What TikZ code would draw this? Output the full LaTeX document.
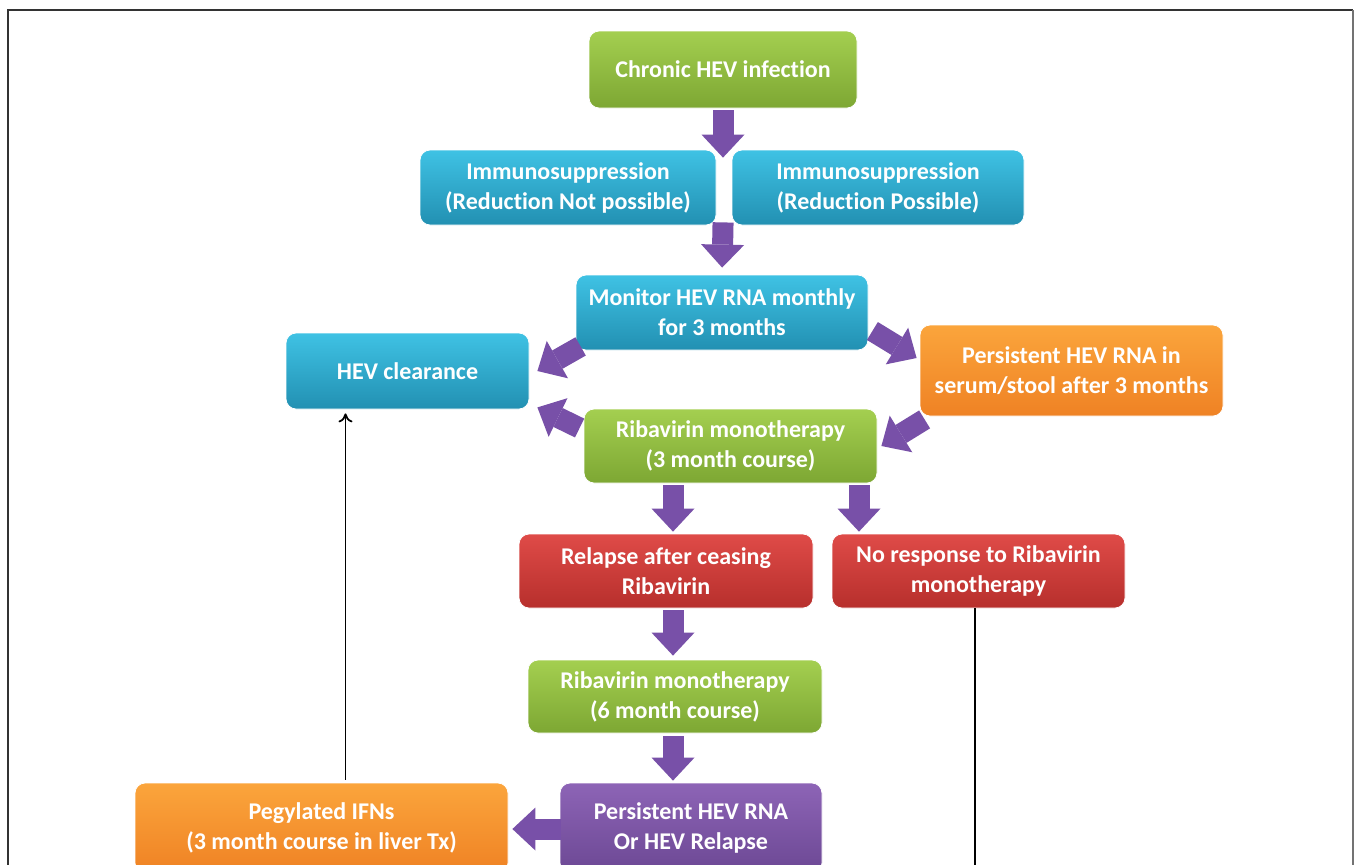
\documentclass[tikz,border=0pt]{standalone}
\usepackage{fontspec}
\setmainfont{Carlito}[Ligatures=NoCommon]
\usetikzlibrary{arrows.meta}

\definecolor{greentop}{HTML}{A4CF50}
\definecolor{greenbot}{HTML}{7DA733}
\definecolor{bluetop}{HTML}{3FC2E4}
\definecolor{bluebot}{HTML}{2290B2}
\definecolor{orangetop}{HTML}{FBA53C}
\definecolor{orangebot}{HTML}{EF8224}
\definecolor{redtop}{HTML}{DF4B48}
\definecolor{redbot}{HTML}{B72F2C}
\definecolor{purpletop}{HTML}{8D64B6}
\definecolor{purplebot}{HTML}{6C4894}
\definecolor{arrowpurple}{HTML}{7850A8}

\tikzset{
  stepbox/.style={rounded corners=5pt, text=white, align=center, inner sep=0pt,
    font=\bfseries\fontsize{12}{15}\selectfont, draw=white, line width=0.4pt},
  greenbox/.style={stepbox, top color=greentop, bottom color=greenbot},
  bluebox/.style={stepbox, top color=bluetop, bottom color=bluebot},
  orangebox/.style={stepbox, top color=orangetop, bottom color=orangebot},
  redbox/.style={stepbox, top color=redtop, bottom color=redbot},
  purplebox/.style={stepbox, top color=purpletop, bottom color=purplebot},
  fatarrow/.style={draw=arrowpurple, line width=10.5pt,
    -{Triangle[length=11.5pt,width=21.5pt,line width=0pt]}},
  thinarrow/.style={draw=black, line width=0.9pt, -{To[length=4.5pt,width=7pt]}}
}

\begin{document}
\begin{tikzpicture}[x=0.5pt,y=-0.5pt]
  \useasboundingbox (0,0) rectangle (1357,864);
  \clip (0,0) rectangle (1357,864);
  \fill[white] (0,0) rectangle (1357,864);
  % frame
  \draw[black!80, line width=0.7pt] (8,900) -- (8,10) -- (1353,10);
  \draw[black!55, line width=1.2pt] (1353,10) -- (1353,900);

  % boxes
  \node[greenbox, minimum width=134pt, minimum height=38.5pt] (chronic) at (723,69.5) {Chronic HEV infection};
  \node[bluebox, minimum width=148pt, minimum height=37.5pt] (immnot) at (568,187.5) {Immunosuppression\\(Reduction Not possible)};
  \node[bluebox, minimum width=146pt, minimum height=37.5pt] (immpos) at (878,187.5) {Immunosuppression\\(Reduction Possible)};
  \node[bluebox, minimum width=146pt, minimum height=37.5pt] (monitor) at (722,312.5) {Monitor HEV RNA monthly\\for 3 months};
  \node[bluebox, minimum width=121.5pt, minimum height=38pt] (clear) at (407.5,371) {HEV clearance};
  \node[orangebox, minimum width=151.5pt, minimum height=45.5pt] (persist) at (1071.5,370.5) {Persistent HEV RNA in\\serum/stool after 3 months};
  \node[greenbox, minimum width=146.5pt, minimum height=37pt] (rib3) at (730.5,446) {Ribavirin monotherapy\\(3 month course)};
  \node[redbox, minimum width=147pt, minimum height=37pt] (relapse) at (666,571) {Relapse after ceasing\\Ribavirin};
  \node[redbox, minimum width=146.5pt, minimum height=37pt] (noresp) at (978.5,571) {No response to Ribavirin\\monotherapy};
  \node[greenbox, minimum width=147pt, minimum height=36.5pt] (rib6) at (675,696.5) {Ribavirin monotherapy\\(6 month course)};
  \node[purplebox, minimum width=131pt, minimum height=45pt] (pershev) at (691,828) {Persistent HEV RNA\\Or HEV Relapse};
  \node[orangebox, minimum width=186.5pt, minimum height=45pt] (peg) at (321.5,828) {Pegylated IFNs\\(3 month course in liver Tx)};

  % block arrows
  \draw[fatarrow, shorten <=1pt, shorten >=-4pt] (chronic.south) -- (chronic.south |- immnot.north);
  \draw[fatarrow, shorten <=-1.5pt, shorten >=3.5pt] (chronic.south |- immnot.south) -- (monitor.north);
  \draw[fatarrow] ([shift={(5,-4)}]monitor.south west) -- ([shift={(8,0)}]clear.east);
  \draw[fatarrow] ([shift={(4,18.5)}]monitor.east) -- ([shift={(-3,-12.5)}]persist.west);
  \draw[fatarrow] ([shift={(5,3)}]persist.south west) -- ([shift={(4,0)}]rib3.east);
  \draw[fatarrow] ([shift={(-4,-18)}]rib3.west) -- ([shift={(8,-2)}]clear.south east);
  \draw[fatarrow] ([shift={(-57.5,2)}]rib3.south) -- ([shift={(7,-2)}]relapse.north);
  \draw[fatarrow] ([shift={(128.5,2)}]rib3.south) -- ([shift={(-119.5,-2)}]noresp.north);
  \draw[fatarrow] ([shift={(7,2)}]relapse.south) -- ([shift={(-2,-4)}]rib6.north);
  \draw[fatarrow] ([shift={(-2,3)}]rib6.south) -- ([shift={(-18,-2)}]pershev.north);
  \draw[fatarrow] ([shift={(1,1)}]pershev.west) -- ([shift={(4,1)}]peg.east);

  % thin lines
  \draw[thinarrow] ([shift={(24,-3)}]peg.north) -- ([shift={(-62,4)}]clear.south);
  \draw[line width=0.9pt] ([shift={(-3.5,0)}]noresp.south) -- ([shift={(-3.5,300)}]noresp.south);
\end{tikzpicture}
\end{document}
